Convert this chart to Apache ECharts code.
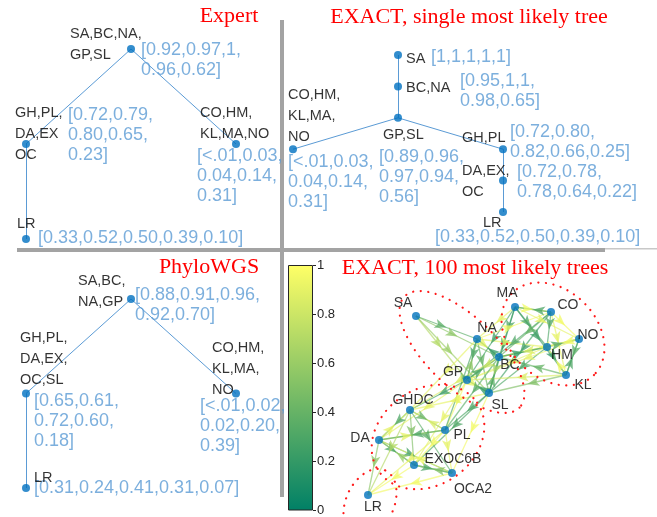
<!DOCTYPE html>
<html><head><meta charset="utf-8">
<script src="https://cdn.jsdelivr.net/npm/echarts@6/dist/echarts.min.js"></script>
<style>html,body{margin:0;padding:0;background:#fff}#c{width:657px;height:517px}</style>
</head><body><div id="c"></div>
<script>
// ---------- DATA ----------
// Expert tree
const expertNames = ['SA,BC,NA,\nGP,SL', 'GH,PL,\nDA,EX\nOC', 'CO,HM,\nKL,MA,NO', 'LR'];
const expertFreq = ['[0.92,0.97,1,\n0.96,0.62]', '[0.72,0.79,\n0.80,0.65,\n0.23]', '[<.01,0.03,\n0.04,0.14,\n0.31]', '[0.33,0.52,0.50,0.39,0.10]'];
const expertCol = [0, -1, 1, -1];
const expertDepth = [0, 1, 1, 2];
const expertParent = [-1, 0, 0, 1];

// EXACT single most likely tree
const exactNames = ['SA', 'BC,NA', 'GP,SL', 'CO,HM,\nKL,MA,\nNO', 'GH,PL', 'DA,EX,\nOC', 'LR'];
const exactFreq = ['[1,1,1,1,1]', '[0.95,1,1,\n0.98,0.65]', '[0.89,0.96,\n0.97,0.94,\n0.56]', '[<.01,0.03,\n0.04,0.14,\n0.31]', '[0.72,0.80,\n0.82,0.66,0.25]', '[0.72,0.78,\n0.78,0.64,0.22]', '[0.33,0.52,0.50,0.39,0.10]'];
const exactCol = [0, 0, 0, -1, 1, 1, 1];
const exactDepth = [0, 1, 2, 3, 3, 4, 5];
const exactParent = [-1, 0, 1, 2, 2, 4, 5];

// PhyloWGS tree
const phyloNames = ['SA,BC,\nNA,GP', 'GH,PL,\nDA,EX,\nOC,SL', 'CO,HM,\nKL,MA,\nNO', 'LR'];
const phyloFreq = ['[0.88,0.91,0.96,\n0.92,0.70]', '[0.65,0.61,\n0.72,0.60,\n0.18]', '[<.01,0.02,\n0.02,0.20,\n0.39]', '[0.31,0.24,0.41,0.31,0.07]'];
const phyloCol = [0, -1, 1, -1];
const phyloDepth = [0, 1, 1, 2];
const phyloParent = [-1, 0, 0, 1];

// EXACT 100 most likely trees (network)
const netNodes = ['SA','MA','CO','NA','NO','HM','BC','KL','GP','SL','GHDC','PL','DA','EXOC6B','OCA2','LR'];
const netX = [86, 185, 221, 147, 249, 217, 169, 236, 137, 159, 80, 115, 49, 84, 122, 38];
const netY = [46, 37, 42, 69, 69, 77, 87, 105, 110, 123, 140, 160, 170, 195, 203, 225];
const netEdges = [
  ['SA','NA',0.35],['SA','GP',0.7],['SA','SL',0.6],['SA','BC',0.55],
  ['NA','BC',0.9],['BC','NA',0.2],['NA','GP',0.3],['GP','NA',0.55],['NA','SL',0.4],['BC','GP',0.8],['GP','BC',0.3],
  ['BC','SL',0.6],['SL','BC',0.35],['GP','SL',0.9],['SL','GP',0.2],
  ['MA','BC',0.3],['MA','GP',0.25],['MA','SL',0.2],['MA','NA',0.9],['CO','BC',0.4],['CO','GP',0.3],['CO','SL',0.25],
  ['HM','BC',0.85],['HM','SL',0.3],['HM','GP',0.9],['NO','BC',0.95],['KL','SL',0.5],['KL','BC',0.4],['BC','HM',0.2],
  ['NA','CO',0.95],['NA','HM',0.9],['NO','GP',0.9],['KL','GP',0.85],
  ['MA','CO',0.95],['CO','MA',0.3],['MA','HM',0.3],['MA','NO',0.9],['MA','KL',0.25],['CO','HM',0.3],['CO','NO',0.95],
  ['CO','KL',0.9],['HM','NO',0.3],['NO','HM',0.95],['HM','KL',0.2],['NO','KL',0.35],['KL','NO',0.3],['KL','HM',0.95],
  ['GP','GHDC',0.25],['GP','PL',0.95],['GP','DA',0.9],['SL','PL',0.3],['SL','GHDC',0.9],['SL','OCA2',0.95],['NA','PL',0.3],
  ['BC','PL',0.35],['GP','EXOC6B',0.9],['BC','GHDC',0.85],['SL','EXOC6B',0.3],['NA','GHDC',0.9],
  ['GHDC','DA',0.3],['GHDC','PL',0.4],['PL','GHDC',0.85],['GHDC','EXOC6B',0.5],['GHDC','OCA2',0.35],['DA','EXOC6B',0.3],
  ['DA','OCA2',0.25],['EXOC6B','DA',0.6],['DA','PL',0.9],['PL','DA',0.3],['PL','EXOC6B',0.95],['PL','OCA2',0.9],
  ['EXOC6B','OCA2',0.3],['OCA2','EXOC6B',0.5],['DA','GHDC',0.9],['OCA2','DA',0.95],
  ['DA','LR',0.55],['GHDC','LR',0.7],['EXOC6B','LR',0.95],['OCA2','LR',0.95],['PL','LR',0.9]
];
const colorbarTicks = [0, 0.2, 0.4, 0.6, 0.8, 1];

// ---------- LAYOUT / STYLE ----------
const expertNameOff = [[-61,-26],[-11,-42],[-36,-42],[-9,-26]];
const expertFreqOff = [[10,-9],[42,-39],[-39,2],[12,-11]];
const exactNameOff = [[8,-7],[8,-9],[-15,7],[-5,-65],[-41,-22],[-41,-20],[-20,0]];
const exactFreqOff = [[33,-8],[62,-15],[-19,29],[-5,3],[7,-27],[14,-19],[-68,15]];
const phyloNameOff = [[-53,-29],[-6,-66],[-24,-56],[8,-21]];
const phyloFreqOff = [[4,-14],[8,-2],[-36,3],[8,-10]];
const netLabelOff = [[-13,-13],[-8,-14],[17,-7],[10,-11],[9,-4],[15,8],[11,8],[17,10],[-14,-8],[11,12],[3,-10],[17,5],[-19,-2],[39,-6],[21,16],[5,12]];
// dotted red group outlines (centre, semi-axes, tilt in degrees)
const loopCx = [132, 223, 98, 40], loopCy = [82, 64, 167, 233];
const loopA = [80, 58, 60, 36], loopB = [35, 44, 48, 24], loopTilt = [44, 45, -35, -65];

const F = 'Liberation Sans';
const BLUE_TXT = '#5b9bd5';
const NODE = '#0070c0';
const summer = t => `rgb(${Math.round(255*t)},${Math.round(127.5+127.5*t)},102)`;

function treeSeries(gi, names, freqs, cols, depths, parents, nameOff, freqOff) {
  const edges = [];
  parents.forEach((p, i) => { if (p >= 0) edges.push({coords: [[cols[p], depths[p]], [cols[i], depths[i]]]}); });
  return [
    {type:'lines', coordinateSystem:'cartesian2d', xAxisIndex:gi, yAxisIndex:gi, data:edges, silent:true,
     lineStyle:{color:'#5b9bd5', width:1, opacity:1}, z:2},
    {type:'scatter', xAxisIndex:gi, yAxisIndex:gi, symbolSize:0.1, z:3, silent:true,
     data: freqs.map((t, i) => ({value:[cols[i], depths[i]], label:{show:true, formatter:t, position:'inside', align:'left', verticalAlign:'top', offset:freqOff[i], color:BLUE_TXT, fontSize:18, lineHeight:20, fontFamily:F}}))},
    {type:'scatter', xAxisIndex:gi, yAxisIndex:gi, symbolSize:8, itemStyle:{color:NODE}, z:4, silent:true,
     data: names.map((n, i) => ({value:[cols[i], depths[i]], label:{show:true, formatter:n, position:'inside', align:'left', verticalAlign:'top', offset:nameOff[i], color:'#000', fontSize:14.5, lineHeight:21, fontFamily:F}}))}
  ];
}

// network
const idx = n => netNodes.indexOf(n);
const netLines = netEdges.map(e => {
  const a = idx(e[0]), b = idx(e[1]);
  return {coords:[[netX[a], netY[a]], [netX[b], netY[b]]], lineStyle:{color:summer(e[2])}};
});
const netArrows = netEdges.map(e => {
  const a = idx(e[0]), b = idx(e[1]);
  const dx = netX[b] - netX[a], dy = netY[b] - netY[a];
  return {value:[(netX[a] + netX[b]) / 2, (netY[a] + netY[b]) / 2], symbolRotate: Math.atan2(-dx, -dy) * 180 / Math.PI, itemStyle:{color:summer(e[2])}};
});
const loopSeries = loopCx.map((cx, k) => {
  const pts = [];
  const phi = loopTilt[k] * Math.PI / 180;
  for (let i = 0; i <= 120; i++) {
    const t = i / 120 * 2 * Math.PI;
    const u = loopA[k] * Math.cos(t), v = loopB[k] * Math.sin(t);
    pts.push([cx + u * Math.cos(phi) - v * Math.sin(phi), loopCy[k] + u * Math.sin(phi) + v * Math.cos(phi)]);
  }
  return {type:'line', xAxisIndex:3, yAxisIndex:3, data:pts, showSymbol:false, symbol:'none', silent:true, z:5,
    lineStyle:{color:'#ff1a1a', width:2.2, type:[0.1, 7.5], cap:'round'}};
});

const hidden = (gi, min, max, inv) => ({gridIndex:gi, type:'value', min, max, show:false, inverse:!!inv});

const option = {
  animation:false,
  backgroundColor:'#fff',
  title: [
    {text:'Expert', left:229, top:5, textAlign:'center', padding:0, textStyle:{fontFamily:'Liberation Serif', fontWeight:'normal', fontSize:22, color:'#ff0000'}},
    {text:'EXACT, single most likely tree', left:469, top:6, textAlign:'center', padding:0, textStyle:{fontFamily:'Liberation Serif', fontWeight:'normal', fontSize:22, color:'#ff0000'}},
    {text:'PhyloWGS', left:209, top:256, textAlign:'center', padding:0, textStyle:{fontFamily:'Liberation Serif', fontWeight:'normal', fontSize:22, color:'#ff0000'}},
    {text:'EXACT, 100 most likely trees', left:475, top:257, textAlign:'center', padding:0, textStyle:{fontFamily:'Liberation Serif', fontWeight:'normal', fontSize:22, color:'#ff0000'}}
  ],
  graphic: [
    {type:'rect', shape:{x:280, y:20, width:4, height:477}, style:{fill:'#a3a3a3'}, z:-10},
    {type:'rect', shape:{x:17, y:248, width:588, height:4}, style:{fill:'#a3a3a3'}, z:-10},
    {type:'rect', shape:{x:605, y:248, width:52, height:1.5}, style:{fill:'#c8c8c8'}, z:-10}
  ],
  grid: [
    {left:26, top:49, width:210, height:190},
    {left:293, top:55, width:210, height:157},
    {left:26, top:299, width:210, height:189},
    {left:330, top:270, width:300, height:247},
    {left:288, top:265, width:25, height:246}
  ],
  xAxis: [
    hidden(0, -1, 1), hidden(1, -1, 1), hidden(2, -1, 1), hidden(3, 0, 300),
    {gridIndex:4, type:'category', data:['c'], show:false}
  ],
  yAxis: [
    hidden(0, 0, 2, true), hidden(1, 0, 5, true), hidden(2, 0, 2, true), hidden(3, 0, 247, true),
    {gridIndex:4, type:'value', min:colorbarTicks[0], max:colorbarTicks[colorbarTicks.length-1], interval:0.2, position:'right',
     axisLine:{show:false}, splitLine:{show:false},
     axisTick:{show:true, inside:false, length:3, lineStyle:{color:'#262626'}},
     axisLabel:{color:'#262626', fontSize:13, fontFamily:F, margin:4}}
  ],
  series: [
    ...treeSeries(0, expertNames, expertFreq, expertCol, expertDepth, expertParent, expertNameOff, expertFreqOff),
    ...treeSeries(1, exactNames, exactFreq, exactCol, exactDepth, exactParent, exactNameOff, exactFreqOff),
    ...treeSeries(2, phyloNames, phyloFreq, phyloCol, phyloDepth, phyloParent, phyloNameOff, phyloFreqOff),
    {type:'lines', coordinateSystem:'cartesian2d', xAxisIndex:3, yAxisIndex:3, data:netLines, silent:true,
     lineStyle:{width:1.3, opacity:0.65}, z:2},
    {type:'scatter', xAxisIndex:3, yAxisIndex:3, data:netArrows, symbol:'arrow', symbolSize:[7, 12], silent:true,
     itemStyle:{opacity:0.75}, z:3},
    ...loopSeries,
    {type:'scatter', xAxisIndex:3, yAxisIndex:3, symbolSize:8, itemStyle:{color:'#0072bd'}, z:6, silent:true,
     data: netNodes.map((n, i) => ({value:[netX[i], netY[i]], label:{show:true, formatter:n, position:'inside', align:'center', verticalAlign:'middle', offset:netLabelOff[i], color:'#000', fontSize:14, fontFamily:F}}))},
    {type:'bar', xAxisIndex:4, yAxisIndex:4, data:[1], barWidth:'100%', silent:true, z:2,
     itemStyle:{borderColor:'#262626', borderWidth:1,
       color:{type:'linear', x:0, y:0, x2:0, y2:1, colorStops:[{offset:0, color:summer(1)}, {offset:1, color:summer(0)}]}}}
  ]
};
const chart = echarts.init(document.getElementById('c'));
chart.setOption(option);
</script></body></html>
